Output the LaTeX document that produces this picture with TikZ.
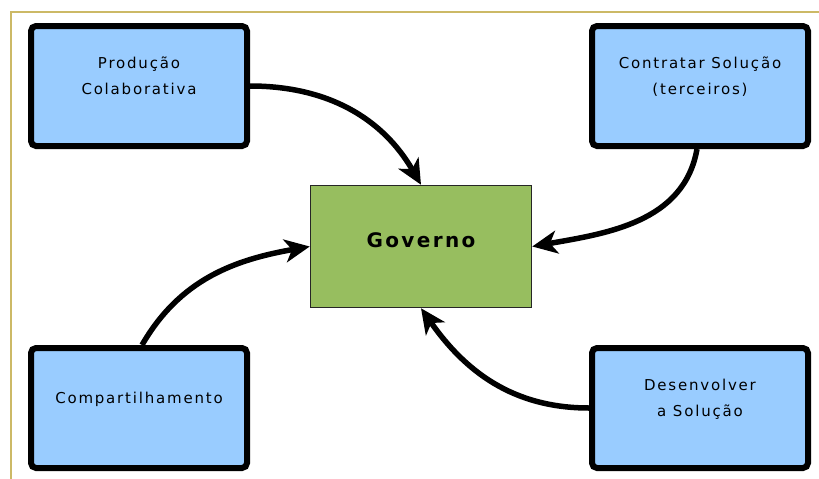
\documentclass[tikz,border=0pt]{standalone}
\usepackage{fontspec}
\setmainfont{DejaVu Sans}[LetterSpace=12]
\usepackage{tikz}
\usetikzlibrary{arrows.meta}
\definecolor{boxblue}{RGB}{153,204,255}
\definecolor{govgreen}{RGB}{151,190,95}
\definecolor{frametan}{RGB}{204,185,102}
\tikzset{
  part/.style={draw=black, line width=6pt, rounded corners=5pt, fill=boxblue,
    minimum width=216pt, minimum height=120pt, align=center, text depth=21pt,
    font=\fontsize{15}{26}\selectfont},
  gov/.style={draw=black!85, line width=1.5pt, fill=govgreen,
    minimum width=221pt, minimum height=122pt, text depth=12pt,
    font=\fontsize{20}{22}\selectfont\bfseries},
  flow/.style={line width=5.5pt, -{Stealth[length=25pt, width=23pt, inset=7pt]}}
}
\begin{document}
\begin{tikzpicture}[x=1pt, y=-1pt]
\useasboundingbox (0,0) rectangle (819,479);
\draw[frametan, line width=1.5pt] (11,479)--(11,12)--(819,12);

\node[gov] (governo) at (421,246.5) {Governo};
\node[part] (producao) at (139,86) {Produção\\Colaborativa};
\node[part] (contratar) at (700,86) {Contratar Solução\\(terceiros)};
\node[part] (compart) at (139,408) {Compartilhamento};
\node[part] (desenv) at (700,408) {Desenvolver\\a Solução};

\draw[flow] (producao.east) to[out=0, in=120] (governo.north);
\draw[flow] ([xshift=-3pt]contratar.south) to[out=-100, in=10] (governo.east);
\draw[flow] ([xshift=3pt]compart.north) to[out=60, in=190] (governo.west);
\draw[flow] (desenv.west) to[out=180, in=-55] (governo.south);
\end{tikzpicture}
\end{document}
